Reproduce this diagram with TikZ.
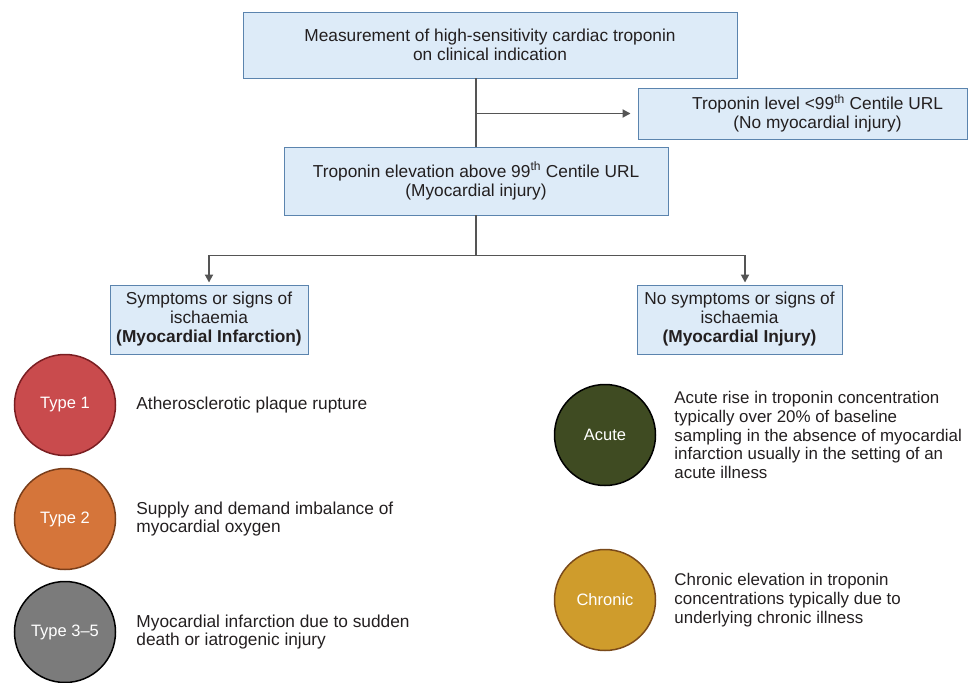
\documentclass[tikz,border=0pt]{standalone}
\usepackage{fontspec}
\setmainfont{Liberation Sans}
\usetikzlibrary{positioning,arrows.meta}
\definecolor{boxfill}{HTML}{DDEBF8}
\definecolor{boxline}{HTML}{5B84AE}
\definecolor{conn}{HTML}{555555}
\definecolor{ink}{HTML}{231F20}
\definecolor{redfill}{HTML}{C94B4D}
\definecolor{redline}{HTML}{7A1E22}
\definecolor{orangefill}{HTML}{D5753A}
\definecolor{orangeline}{HTML}{7A3E1A}
\definecolor{greyfill}{HTML}{7B7B7B}
\definecolor{olivefill}{HTML}{3F4B22}
\definecolor{goldfill}{HTML}{CF9C2C}
\definecolor{goldline}{HTML}{7A4A1A}
\begin{document}
\begin{tikzpicture}[x=1pt,y=-1pt,
  box/.style={draw=boxline,fill=boxfill,line width=0.9pt,align=center,inner sep=0pt,text=ink,font=\fontsize{17.3}{19}\selectfont},
  conn/.style={draw=conn,line width=1.8pt},
  arr/.style={conn,-{Triangle[length=8pt,width=8pt]}},
  disc/.style={circle,minimum size=101pt,inner sep=0pt,line width=1.5pt,text=white,font=\fontsize{16.5}{19}\selectfont},
  desc/.style={right=20pt of #1,align=left,inner sep=0pt,text=ink,font=\fontsize{17.3}{18.8}\selectfont}]
\useasboundingbox (0,0) rectangle (968,682);
% flow boxes
\node[box,minimum width=494pt,minimum height=66pt] (meas) at (490,45) {Measurement of high-sensitivity cardiac troponin\\on clinical indication};
\node[box,minimum width=329pt,minimum height=51pt] (low) at (802.5,113.5) {\hspace*{30pt}Troponin level <99\textsuperscript{th} Centile URL\\\hspace*{30pt}(No myocardial injury)};
\node[box,minimum width=384pt,minimum height=68pt] (elev) at (476,181) {Troponin elevation above 99\textsuperscript{th} Centile URL\\(Myocardial injury)};
\node[box,minimum width=198pt,minimum height=69pt] (mi) at (209,319.5) {Symptoms or signs of\\ischaemia\\\textbf{(Myocardial Infarction)}};
\node[box,minimum width=205pt,minimum height=69pt] (inj) at (739.5,319.5) {No symptoms or signs of\\ischaemia\\\textbf{(Myocardial Injury)}};
% connectors
\draw[conn] (meas.south -| elev.north) -- (elev.north);
\draw[arr] (elev.north |- low.west) -- ([xshift=-7pt]low.west);
\coordinate (split) at ([yshift=-40pt]elev.south);
\draw[conn] (elev.south) -- (split);
\draw[arr] (split) -| ([yshift=2pt]mi.north);
\draw[arr] (split) -| ([xshift=5.5pt,yshift=2pt]inj.north);
% infarction types
\foreach \n/\y/\f/\l/\t/\d in {t1/405/redfill/redline/Type 1/Atherosclerotic plaque rupture,
  t2/519/orangefill/orangeline/Type 2/{Supply and demand imbalance of\\myocardial oxygen},
  t3/632/greyfill/black/Type 3--5/{Myocardial infarction due to sudden\\death or iatrogenic injury}}
{
\node[disc,fill=\f,draw=\l] (\n) at (65,\y) {\t};
\node[desc=\n] (\n d) {\d};
}
% injury types
\foreach \n/\y/\f/\l/\t/\d in {acute/435/olivefill/black/Acute/{Acute rise in troponin concentration\\typically over 20\% of baseline\\sampling in the absence of myocardial\\infarction usually in the setting of an\\acute illness},
  chronic/600/goldfill/goldline/Chronic/{Chronic elevation in troponin\\concentrations typically due to\\underlying chronic illness}}
{
\node[disc,fill=\f,draw=\l] (\n) at (605,\y) {\t};
\node[desc=\n,right=18pt of \n,font=\fontsize{16.9}{18.8}\selectfont] (\n d) {\d};
}
\end{tikzpicture}
\end{document}
